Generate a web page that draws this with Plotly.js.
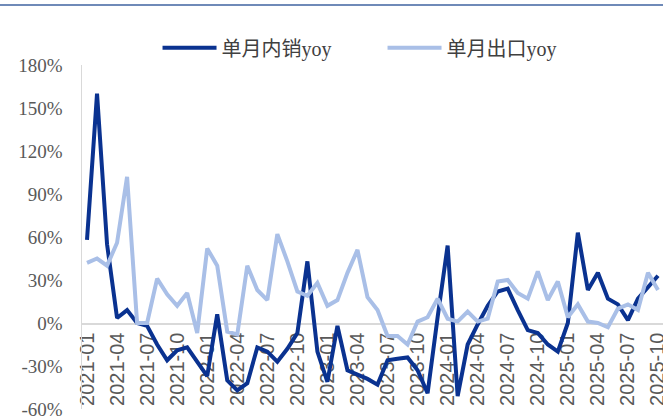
<!DOCTYPE html>
<html>
<head>
<meta charset="utf-8">
<script src="https://cdn.plot.ly/plotly-3.0.1.min.js"></script>
<style>
  html, body { margin: 0; padding: 0; background: #fff; }
  #chart { width: 663px; height: 418px; }
</style>
</head>
<body>
<div id="chart"></div>
<script>
// months 2021-01 .. 2025-10
const months = [];
for (let y = 2021; y <= 2025; y++) {
    for (let m = 1; m <= 12; m++) {
        if (y === 2025 && m > 10) break;
        months.push(y + '-' + String(m).padStart(2, '0'));
    }
}

// 单月内销yoy (%)
const domesticYoy = [
    58, 160, 55, 3.5, 9, 0, -2, -15, -26, -19, -17, -27,
    -37, 6, -40, -47, -42, -17, -20, -27, -18, -7, 43, -20,
    -41, -2, -33, -36, -39, -43, -26, -25, -24, -33, -49, 4,
    54, -51, -15, -1, 12, 22, 24, 9, -5, -7, -15, -20,
    0, 63, 23, 35, 17, 13, 2, 17, 25, 33
];

// 单月出口yoy (%)
const exportYoy = [
    42, 45, 40, 56, 102, 0, 0, 31, 20, 12, 21, -7,
    52, 40, -6, -8, 40, 23, 16, 62, 43, 22, 19, 28,
    12, 16, 35, 51, 18, 9, -9, -9, -15, 1, 4, 17,
    3, 1, 8, 1, 3, 29, 30, 21, 17, 36, 16, 29,
    4, 13, 1, 0, -3, 10, 13, 9, 35, 23
];

const yTicks = [-60, -30, 0, 30, 60, 90, 120, 150, 180];
const xTicks = months.filter((d, i) => i % 3 === 0);

const traces = [
    {
        x: months,
        y: domesticYoy,
        name: '单月内销yoy',
        type: 'scatter',
        mode: 'lines',
        line: { color: '#0a3290', width: 4 }
    },
    {
        x: months,
        y: exportYoy,
        name: '单月出口yoy',
        type: 'scatter',
        mode: 'lines',
        line: { color: '#a9bfe7', width: 4 }
    }
];

const layout = {
    width: 663,
    height: 418,
    margin: { l: 82, r: 0, t: 65, b: 9 },
    paper_bgcolor: '#fff',
    plot_bgcolor: '#fff',
    showlegend: true,
    legend: {
        orientation: 'h',
        x: 0.13,
        xanchor: 'left',
        y: 1.05,
        yanchor: 'middle',
        itemwidth: 54,
        entrywidth: 156,
        font: { family: 'Liberation Serif, Noto Sans CJK SC, serif', size: 20, color: '#404040' }
    },
    xaxis: {
        type: 'category',
        range: [-0.5, months.length - 0.5],
        anchor: 'free',
        position: 0.25,
        tickmode: 'array',
        tickvals: xTicks,
        ticktext: xTicks,
        tickangle: -90,
        showgrid: false,
        zeroline: false,
        showline: true,
        linecolor: '#d9d9d9',
        linewidth: 1.5,
        ticks: '',
        layer: 'below traces',
        ticklabeloverflow: 'allow',
        tickfont: { family: 'Liberation Sans, sans-serif', size: 20, color: '#595959' }
    },
    yaxis: {
        range: [-60, 180],
        tickmode: 'array',
        tickvals: yTicks,
        ticktext: yTicks.map(v => v + '%'),
        showgrid: false,
        zeroline: false,
        showline: true,
        linecolor: '#d9d9d9',
        linewidth: 1.5,
        ticks: 'outside',
        ticklen: 14,
        tickcolor: 'rgba(0,0,0,0)',
        ticklabeloverflow: 'allow',
        tickfont: { family: 'Liberation Serif, serif', size: 19, color: '#595959' }
    },
    shapes: [
        {
            type: 'line',
            xref: 'paper', yref: 'paper',
            x0: -82 / 581, x1: 1,
            y0: 1 + 60 / 344, y1: 1 + 60 / 344,
            line: { color: '#6f8ab8', width: 2 }
        }
    ]
};

Plotly.newPlot('chart', traces, layout, { displayModeBar: false, staticPlot: true });
</script>
</body>
</html>
